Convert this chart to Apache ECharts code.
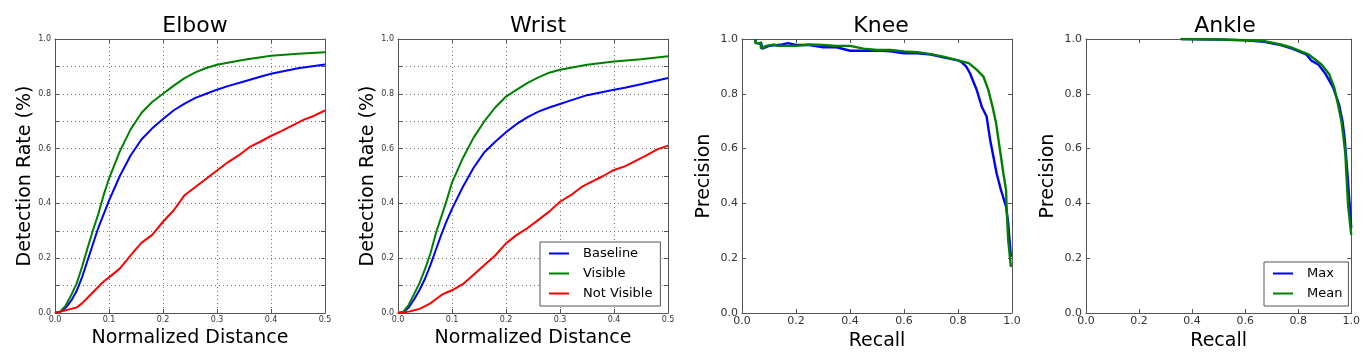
<!DOCTYPE html>
<html><head><meta charset="utf-8">
<script src="https://cdn.jsdelivr.net/npm/echarts@6/dist/echarts.min.js"></script>
<style>html,body{margin:0;padding:0;background:#fff}#c{width:1363px;height:356px}</style>
</head><body><div id="c"></div>
<script>
// ---- data ----
var titles = ['Elbow', 'Wrist', 'Knee', 'Ankle'];
var distLegend = ['Baseline', 'Visible', 'Not Visible'];
var prLegend = ['Max', 'Mean'];

var elbowBaseline = [[0,0],[0.01,0.005],[0.02,0.02],[0.03,0.045],[0.04,0.08],[0.05,0.13],[0.06,0.19],[0.07,0.25],[0.08,0.31],[0.09,0.36],[0.1,0.41],[0.12,0.5],[0.14,0.575],[0.16,0.633],[0.18,0.674],[0.2,0.708],[0.22,0.74],[0.24,0.764],[0.26,0.785],[0.28,0.8],[0.3,0.815],[0.32,0.828],[0.35,0.845],[0.38,0.862],[0.4,0.873],[0.45,0.893],[0.5,0.907]];
var elbowVisible = [[0,0],[0.01,0.005],[0.02,0.028],[0.03,0.065],[0.04,0.107],[0.05,0.168],[0.06,0.235],[0.07,0.3],[0.08,0.36],[0.09,0.43],[0.1,0.49],[0.12,0.59],[0.14,0.67],[0.16,0.73],[0.18,0.77],[0.2,0.8],[0.22,0.83],[0.24,0.857],[0.26,0.878],[0.28,0.894],[0.3,0.906],[0.35,0.924],[0.4,0.939],[0.45,0.946],[0.5,0.952]];
var elbowNotVisible = [[0,0],[0.01,0.005],[0.02,0.01],[0.03,0.015],[0.04,0.02],[0.05,0.035],[0.06,0.055],[0.07,0.075],[0.08,0.095],[0.09,0.115],[0.1,0.13],[0.12,0.162],[0.14,0.21],[0.16,0.256],[0.18,0.285],[0.2,0.333],[0.22,0.375],[0.24,0.43],[0.26,0.46],[0.28,0.49],[0.3,0.52],[0.32,0.55],[0.34,0.575],[0.36,0.605],[0.38,0.625],[0.4,0.646],[0.42,0.665],[0.44,0.685],[0.46,0.705],[0.48,0.72],[0.5,0.739]];

var wristBaseline = [[0,0],[0.01,0.003],[0.02,0.02],[0.03,0.05],[0.04,0.085],[0.05,0.125],[0.06,0.175],[0.07,0.23],[0.08,0.285],[0.09,0.335],[0.1,0.38],[0.12,0.46],[0.14,0.53],[0.16,0.587],[0.18,0.625],[0.2,0.66],[0.22,0.69],[0.24,0.715],[0.26,0.735],[0.28,0.75],[0.3,0.763],[0.32,0.776],[0.35,0.795],[0.4,0.815],[0.42,0.822],[0.45,0.835],[0.5,0.858]];
var wristVisible = [[0,0],[0.01,0.005],[0.02,0.03],[0.03,0.07],[0.04,0.11],[0.05,0.16],[0.06,0.217],[0.07,0.29],[0.08,0.35],[0.09,0.41],[0.1,0.476],[0.12,0.565],[0.14,0.64],[0.16,0.7],[0.18,0.75],[0.2,0.79],[0.22,0.815],[0.24,0.84],[0.26,0.86],[0.28,0.877],[0.3,0.888],[0.35,0.906],[0.4,0.918],[0.45,0.926],[0.5,0.937]];
var wristNotVisible = [[0,0],[0.01,0.002],[0.02,0.005],[0.03,0.01],[0.04,0.015],[0.05,0.025],[0.06,0.035],[0.07,0.05],[0.08,0.065],[0.09,0.075],[0.1,0.083],[0.12,0.105],[0.14,0.14],[0.16,0.175],[0.18,0.21],[0.2,0.254],[0.22,0.285],[0.24,0.31],[0.26,0.34],[0.28,0.37],[0.3,0.406],[0.32,0.43],[0.34,0.46],[0.36,0.48],[0.38,0.5],[0.4,0.522],[0.42,0.535],[0.44,0.555],[0.46,0.575],[0.48,0.597],[0.5,0.611]];

var kneeMax = [[0.05,1.0],[0.05,0.985],[0.06,0.985],[0.07,0.98],[0.07,0.99],[0.075,0.965],[0.1,0.975],[0.15,0.98],[0.17,0.985],[0.2,0.978],[0.25,0.978],[0.3,0.97],[0.35,0.97],[0.4,0.957],[0.45,0.957],[0.5,0.958],[0.55,0.955],[0.6,0.948],[0.65,0.948],[0.7,0.943],[0.75,0.932],[0.8,0.922],[0.814,0.915],[0.83,0.9],[0.844,0.876],[0.869,0.815],[0.888,0.753],[0.906,0.717],[0.919,0.632],[0.931,0.571],[0.943,0.51],[0.959,0.449],[0.978,0.388],[0.986,0.327],[0.996,0.205]];
var kneeMean = [[0.05,1.0],[0.05,0.985],[0.07,0.985],[0.07,0.965],[0.09,0.975],[0.12,0.98],[0.13,0.975],[0.2,0.975],[0.25,0.98],[0.3,0.978],[0.35,0.975],[0.4,0.975],[0.45,0.965],[0.5,0.96],[0.55,0.96],[0.6,0.955],[0.65,0.952],[0.7,0.945],[0.75,0.935],[0.8,0.922],[0.84,0.912],[0.869,0.888],[0.894,0.863],[0.912,0.815],[0.928,0.753],[0.941,0.693],[0.95,0.632],[0.959,0.571],[0.968,0.51],[0.978,0.449],[0.98,0.388],[0.986,0.266],[0.996,0.168]];

var ankleMax = [[0.36,1.0],[0.5,0.998],[0.6,0.995],[0.672,0.99],[0.734,0.978],[0.777,0.965],[0.83,0.944],[0.851,0.92],[0.876,0.907],[0.904,0.871],[0.932,0.822],[0.954,0.761],[0.967,0.7],[0.975,0.639],[0.985,0.517],[0.994,0.395],[1.0,0.31]];
var ankleMean = [[0.356,1.0],[0.5,0.998],[0.6,0.996],[0.672,0.992],[0.734,0.98],[0.777,0.968],[0.839,0.944],[0.888,0.907],[0.917,0.871],[0.936,0.822],[0.95,0.761],[0.963,0.7],[0.971,0.639],[0.978,0.578],[0.981,0.517],[0.988,0.395],[1.0,0.285]];

// ---- layout ----
var FONT = 'DejaVu Sans';
var gridLefts = [55, 398, 742, 1086];
var gridWidth = 270;
var titleCenters = [190, 533, 876, 1220];
var spine = '#555';

var grids = [], xAxes = [], yAxes = [], titleOpts = [], series = [];

function addPanel(i, cfg) {
  grids.push({left: gridLefts[i], top: 39, width: gridWidth, height: 274});
  titleOpts.push({text: titles[i], left: titleCenters[i], top: 10, textAlign: 'center',
    textStyle: {fontFamily: FONT, fontSize: 22, fontWeight: 'normal', color: '#000'}});
  var tick = {show: true, inside: true, length: 4, lineStyle: {color: spine}};
  var line = {show: true, onZero: false, lineStyle: {color: spine, width: 1}};
  xAxes.push({gridIndex: i, type: 'value', min: 0, max: cfg.xMax, interval: cfg.xInt, position: 'bottom',
    axisLine: line, axisTick: tick,
    axisLabel: {fontFamily: FONT, fontSize: cfg.lab, color: '#333', margin: cfg.xMargin,
      formatter: function (v) { return v.toFixed(1); }},
    splitLine: {show: cfg.dotted, lineStyle: {type: [1, 3], color: '#777'}},
    name: cfg.xName, nameLocation: 'middle', nameGap: cfg.xNameGap,
    nameTextStyle: {fontFamily: FONT, fontSize: 19, color: '#000'}});
  xAxes.push({gridIndex: i, type: 'value', min: 0, max: cfg.xMax, interval: cfg.xInt, position: 'top',
    axisLine: line, axisTick: tick, axisLabel: {show: false}, splitLine: {show: false}});
  yAxes.push({gridIndex: i, type: 'value', min: 0, max: 1, interval: cfg.yInt, position: 'left',
    axisLine: line, axisTick: tick,
    axisLabel: {fontFamily: FONT, fontSize: cfg.lab, color: '#333', margin: cfg.yMargin,
      formatter: function (v) {
        var t = Math.round(v * 10);
        if (cfg.yInt < 0.15 && t % 2 !== 0) return '';
        return v.toFixed(1);
      }},
    splitLine: {show: cfg.dotted, lineStyle: {type: [1, 3], color: '#777'}},
    name: cfg.yName, nameLocation: 'middle', nameGap: cfg.yNameGap,
    nameTextStyle: {fontFamily: FONT, fontSize: 19, color: '#000'}});
  yAxes.push({gridIndex: i, type: 'value', min: 0, max: 1, interval: cfg.yInt, position: 'right',
    axisLine: line, axisTick: tick, axisLabel: {show: false}, splitLine: {show: false}});
  cfg.lines.forEach(function (s) {
    series.push({type: 'line', name: s[0], data: s[1], xAxisIndex: 2 * i, yAxisIndex: 2 * i,
      showSymbol: false, symbol: 'none', color: s[2], lineStyle: {color: s[2], width: s[4] || 2},
      emphasis: {disabled: true}, silent: true, z: s[3] || 2});
  });
}

var BLUE = '#0000ff', GREEN = '#008000', RED = '#ff0000';
var distCfg = {xMax: 0.5, xInt: 0.1, yInt: 0.1, dotted: true, lab: 8, xMargin: 3, yMargin: 4,
  xName: 'Normalized Distance', xNameGap: 14, yName: 'Detection Rate (%)', yNameGap: 20};
addPanel(0, Object.assign({}, distCfg, {lines: [[distLegend[0], elbowBaseline, BLUE], [distLegend[1], elbowVisible, GREEN], [distLegend[2], elbowNotVisible, RED]]}));
addPanel(1, Object.assign({}, distCfg, {lines: [[distLegend[0], wristBaseline, BLUE], [distLegend[1], wristVisible, GREEN], [distLegend[2], wristNotVisible, RED]]}));
var prCfg = {xMax: 1, xInt: 0.2, yInt: 0.2, dotted: false, lab: 11, xMargin: 3, yMargin: 4,
  xName: 'Recall', xNameGap: 16, yName: 'Precision', yNameGap: 28};
addPanel(2, Object.assign({}, prCfg, {lines: [[prLegend[0], kneeMax, BLUE, 2, 2.4], [prLegend[1], kneeMean, GREEN, 3, 2.4]]}));
addPanel(3, Object.assign({}, prCfg, {lines: [[prLegend[0], ankleMax, BLUE, 2, 2.4], [prLegend[1], ankleMean, GREEN, 3, 2.4]]}));

var legendBase = {orient: 'vertical', icon: 'rect', itemWidth: 20, itemHeight: 2, itemGap: 7,
  borderColor: spine, borderWidth: 1, backgroundColor: '#fff', selectedMode: false,
  textStyle: {fontFamily: FONT, fontSize: 13, color: '#000', padding: [0, 0, 0, 9]}};

var chart = echarts.init(document.getElementById('c'), null, {renderer: 'canvas'});
chart.setOption({
  animation: false,
  backgroundColor: '#fff',
  title: titleOpts,
  grid: grids,
  xAxis: xAxes,
  yAxis: yAxes,
  legend: [
    Object.assign({}, legendBase, {data: distLegend, left: 540, top: 242, padding: [5, 8, 6, 9]}),
    Object.assign({}, legendBase, {data: prLegend, left: 1264, top: 262, padding: [5, 6, 6, 9]})
  ],
  series: series
});
</script></body></html>
